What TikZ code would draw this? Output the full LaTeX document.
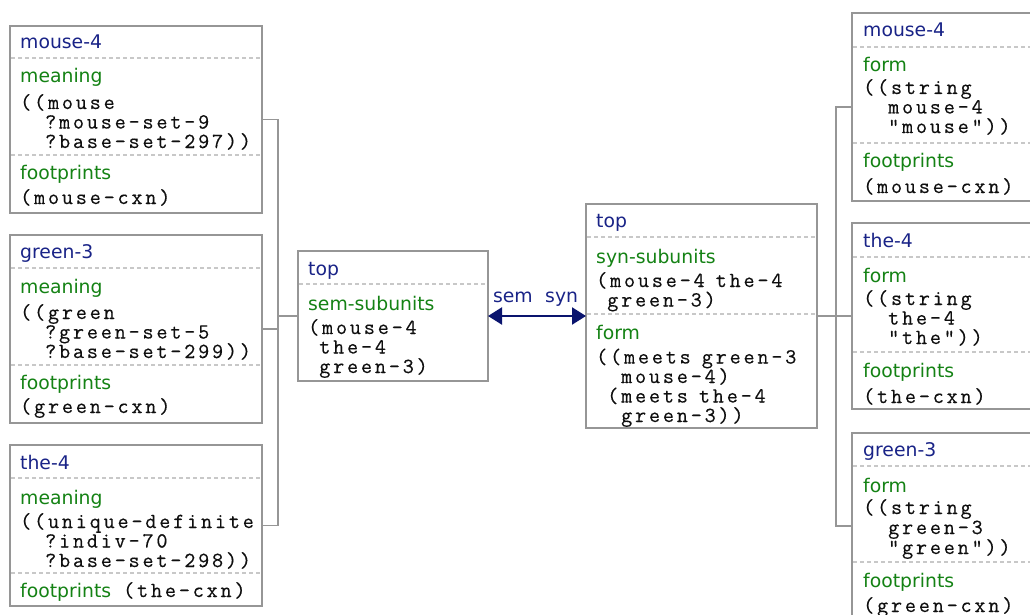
\documentclass[tikz,border=0pt]{standalone}
\usepackage{fontspec}
\setsansfont{DejaVu Sans}
\setmonofont{Latin Modern Mono}[LetterSpace=13.2,FakeBold=0.4]
\usetikzlibrary{arrows.meta}
\definecolor{hdr}{RGB}{25,35,135}
\definecolor{fld}{RGB}{20,130,20}
\definecolor{framec}{RGB}{150,150,150}
\definecolor{sepc}{RGB}{200,200,200}
\definecolor{arrc}{RGB}{10,20,110}
\definecolor{monoc}{RGB}{15,15,15}
\newcommand\pp[1]{\phantom{#1}}
\begin{document}
\begin{tikzpicture}[x=1pt,y=-1pt,
  box/.style={draw=framec, line width=1.6pt, rectangle, inner sep=0pt, outer sep=0pt, anchor=north west, fill=white},
  sepline/.style={draw=sepc, line width=1.2pt, dash pattern=on 4pt off 3pt},
  hd/.style={font=\sffamily\fontsize{18.8}{20}\selectfont, text=hdr, anchor=base west, inner sep=0pt},
  fd/.style={font=\sffamily\fontsize{18.8}{20}\selectfont, text=fld, anchor=base west, inner sep=0pt},
  mn/.style={font=\ttfamily\fontsize{21.5}{19.5}\selectfont, text=monoc, anchor=base west, inner sep=0pt},
  lbl/.style={font=\sffamily\fontsize{18.8}{20}\selectfont, text=hdr, inner sep=0pt},
  conn/.style={draw=framec, line width=1.4pt},
  biarrow/.style={draw=arrc, line width=2.2pt, {Triangle[length=14pt,width=17pt]}-{Triangle[length=14pt,width=17pt]}}
]
\useasboundingbox (0,0) rectangle (1030,615);
\clip (0,0) rectangle (1030,615);

% ---------- left boxes ----------
\node[box, minimum width=252pt, minimum height=187pt] (L1) at (10,26) {};
\node[box, minimum width=252pt, minimum height=188pt] (L2) at (10,235) {};
\node[box, minimum width=252pt, minimum height=161pt] (L3) at (10,445) {};
% ---------- centre boxes ----------
\node[box, minimum width=190pt, minimum height=130pt] (C) at (298,251) {};
\node[box, minimum width=231pt, minimum height=224pt] (R) at (586,204) {};
% ---------- right boxes ----------
\node[box, minimum width=250pt, minimum height=188pt] (R1) at (852,13) {};
\node[box, minimum width=250pt, minimum height=186pt] (R2) at (852,223) {};
\node[box, minimum width=250pt, minimum height=186pt] (R3) at (852,433) {};

% separators
\foreach \y in {58,155} \draw[sepline] (11,\y) -- (261,\y);
\foreach \y in {268,365} \draw[sepline] (11,\y) -- (261,\y);
\foreach \y in {478,573} \draw[sepline] (11,\y) -- (261,\y);
\draw[sepline] (299,284) -- (487,284);
\foreach \y in {237,314} \draw[sepline] (587,\y) -- (816,\y);
\foreach \y in {47,143} \draw[sepline] (853,\y) -- (1040,\y);
\foreach \y in {257,352} \draw[sepline] (853,\y) -- (1040,\y);
\foreach \y in {466,562} \draw[sepline] (853,\y) -- (1040,\y);

% L1 contents
\node[hd] (L1h) at (20,49) {mouse-4};
\node[fd] (L1f) at (20,83) {meaning};
\node[mn] (L1m1) at (20,109) {((mouse};
\node[mn] (L1m2) at (20,128.5) {\pp{((}?mouse-set-9};
\node[mn] (L1m3) at (20,148) {\pp{((}?base-set-297))};
\node[fd] (L1g) at (20,179) {footprints};
\node[mn] (L1n) at (20,204) {(mouse-cxn)};

% L2 contents
\node[hd] (L2h) at (20,258) {green-3};
\node[fd] (L2f) at (20,293) {meaning};
\node[mn] (L2m1) at (20,319) {((green};
\node[mn] (L2m2) at (20,338.5) {\pp{((}?green-set-5};
\node[mn] (L2m3) at (20,358) {\pp{((}?base-set-299))};
\node[fd] (L2g) at (20,389) {footprints};
\node[mn] (L2n) at (20,413) {(green-cxn)};

% L3 contents
\node[hd] (L3h) at (20,469) {the-4};
\node[fd] (L3f) at (20,504) {meaning};
\node[mn] (L3m1) at (20,528) {((unique-definite};
\node[mn] (L3m2) at (20,547.5) {\pp{((}?indiv-70};
\node[mn] (L3m3) at (20,567) {\pp{((}?base-set-298))};
\node[fd] (L3g) at (20,597) {footprints};
\node[mn] (L3n) at (123,597) {(the-cxn)};

% C contents
\node[hd] (Ch) at (308,275) {top};
\node[fd] (Cf) at (308,310) {sem-subunits};
\node[mn] (Cm1) at (308,334) {(mouse-4};
\node[mn] (Cm2) at (308,353.5) {\pp{(}the-4};
\node[mn] (Cm3) at (308,373) {\pp{(}green-3)};

% R contents
\node[hd] (Rh) at (596,227) {top};
\node[fd] (Rf) at (596,263) {syn-subunits};
\node[mn] (Rm1) at (596,287) {(mouse-4\pp{x}the-4};
\node[mn] (Rm2) at (596,306.5) {\pp{(}green-3)};
\node[fd] (Rg) at (596,339) {form};
\node[mn] (Rn1) at (596,363.5) {((meets\pp{x}green-3};
\node[mn] (Rn2) at (596,383) {\pp{((}mouse-4)};
\node[mn] (Rn3) at (596,402.5) {\pp{(}(meets\pp{x}the-4};
\node[mn] (Rn4) at (596,422) {\pp{((}green-3))};

% R1 contents
\node[hd] (R1h) at (863,37) {mouse-4};
\node[fd] (R1f) at (863,72) {form};
\node[mn] (R1m1) at (863,94) {((string};
\node[mn] (R1m2) at (863,113.5) {\pp{((}mouse-4};
\node[mn] (R1m3) at (863,133) {\pp{((}"mouse"))};
\node[fd] (R1g) at (863,167) {footprints};
\node[mn] (R1n) at (863,193) {(mouse-cxn)};

% R2 contents
\node[hd] (R2h) at (863,247) {the-4};
\node[fd] (R2f) at (863,282) {form};
\node[mn] (R2m1) at (863,305) {((string};
\node[mn] (R2m2) at (863,324.5) {\pp{((}the-4};
\node[mn] (R2m3) at (863,344) {\pp{((}"the"))};
\node[fd] (R2g) at (863,377) {footprints};
\node[mn] (R2n) at (863,403) {(the-cxn)};

% R3 contents
\node[hd] (R3h) at (863,456) {green-3};
\node[fd] (R3f) at (863,492) {form};
\node[mn] (R3m1) at (863,514) {((string};
\node[mn] (R3m2) at (863,534) {\pp{((}green-3};
\node[mn] (R3m3) at (863,554) {\pp{((}"green"))};
\node[fd] (R3g) at (863,587) {footprints};
\node[mn] (R3n) at (863,612) {(green-cxn)};

% connectors
\coordinate (jl) at (278,316);
\coordinate (jr) at (836,316);
\draw[conn] (L1.east) -| (jl) |- (L3.east);
\draw[conn] (L2.east) -- (L2.east -| jl);
\draw[conn] (jl) -- (C.west);
\draw[conn] (R.east) -- (R2.west);
\draw[conn] (R1.west) -| (jr) |- (R3.west);

% arrow
\draw[biarrow] (C.east) -- (R.west);
\node[lbl, anchor=base east] (semlbl) at (533,302) {sem};
\node[lbl, anchor=base west] (synlbl) at (545,302) {syn};
\end{tikzpicture}
\end{document}
